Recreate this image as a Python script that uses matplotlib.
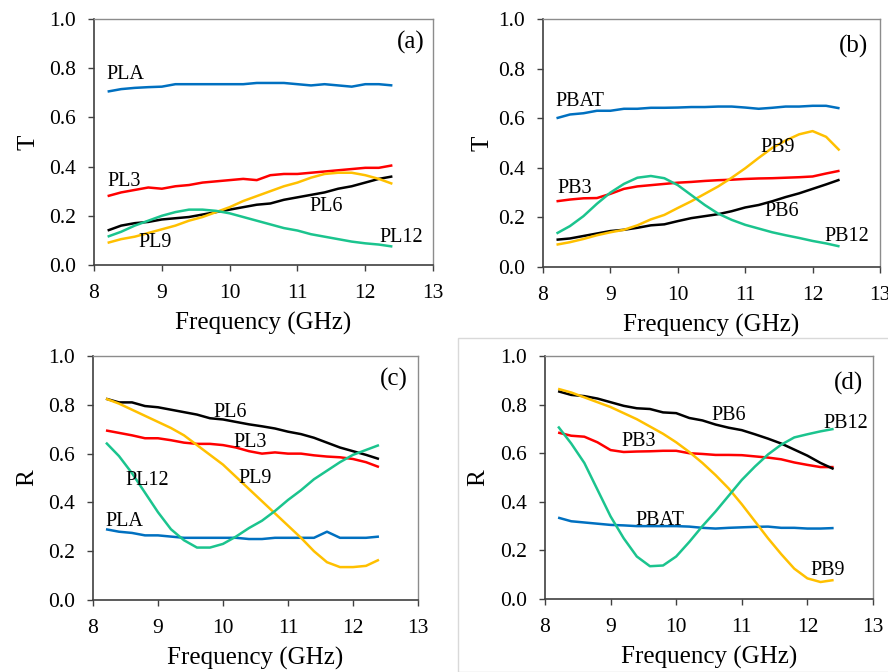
import matplotlib
matplotlib.use("Agg")
import matplotlib.pyplot as plt
from matplotlib.patches import Rectangle

plt.rcParams['font.family'] = ['Liberation Serif', 'DejaVu Serif']

freq = [8.2, 8.4, 8.6, 8.8, 9.0, 9.2, 9.4, 9.6, 9.8, 10.0, 10.2, 10.4, 10.6, 10.8,
        11.0, 11.2, 11.4, 11.6, 11.8, 12.0, 12.2, 12.4]

# Panel (a): T of PL series
a_PLA = [0.705, 0.715, 0.720, 0.723, 0.725, 0.735, 0.735, 0.735, 0.735, 0.735, 0.735, 0.740,
         0.740, 0.740, 0.735, 0.730, 0.735, 0.730, 0.725, 0.735, 0.735, 0.730]
a_PL3 = [0.280, 0.295, 0.305, 0.315, 0.310, 0.320, 0.325, 0.335, 0.340, 0.345, 0.350, 0.345,
         0.365, 0.370, 0.370, 0.375, 0.380, 0.385, 0.390, 0.395, 0.395, 0.405]
a_PL6 = [0.140, 0.160, 0.170, 0.175, 0.185, 0.190, 0.195, 0.205, 0.215, 0.225, 0.235, 0.245,
         0.250, 0.265, 0.275, 0.285, 0.295, 0.310, 0.320, 0.335, 0.350, 0.360]
a_PL9 = [0.090, 0.105, 0.115, 0.130, 0.145, 0.160, 0.180, 0.195, 0.215, 0.235, 0.260, 0.280,
         0.300, 0.320, 0.335, 0.355, 0.370, 0.375, 0.375, 0.365, 0.350, 0.330]
a_PL12 = [0.115, 0.135, 0.160, 0.180, 0.200, 0.215, 0.225, 0.225, 0.220, 0.210, 0.195, 0.180,
          0.165, 0.150, 0.140, 0.125, 0.115, 0.105, 0.095, 0.088, 0.083, 0.075]

# Panel (b): T of PB series
b_PBAT = [0.600, 0.615, 0.620, 0.630, 0.630, 0.638, 0.638, 0.642, 0.642, 0.643, 0.645, 0.645,
          0.647, 0.647, 0.643, 0.638, 0.642, 0.647, 0.647, 0.650, 0.650, 0.640]
b_PB3 = [0.265, 0.272, 0.277, 0.278, 0.295, 0.315, 0.325, 0.330, 0.335, 0.340, 0.343, 0.347,
         0.350, 0.352, 0.355, 0.357, 0.358, 0.360, 0.362, 0.365, 0.377, 0.388]
b_PB6 = [0.110, 0.115, 0.125, 0.135, 0.145, 0.150, 0.158, 0.168, 0.172, 0.185, 0.197, 0.205,
         0.213, 0.225, 0.240, 0.250, 0.265, 0.282, 0.297, 0.315, 0.333, 0.352]
b_PB9 = [0.090, 0.100, 0.113, 0.128, 0.140, 0.150, 0.168, 0.192, 0.210, 0.238, 0.265, 0.295,
         0.325, 0.360, 0.398, 0.440, 0.480, 0.510, 0.535, 0.548, 0.525, 0.470]
b_PB12 = [0.135, 0.165, 0.205, 0.255, 0.300, 0.335, 0.360, 0.367, 0.358, 0.330, 0.290, 0.250,
          0.215, 0.190, 0.170, 0.155, 0.140, 0.128, 0.117, 0.105, 0.095, 0.083]

# Panel (c): R of PL series
c_PLA = [0.290, 0.280, 0.275, 0.265, 0.265, 0.260, 0.255, 0.255, 0.255, 0.255, 0.255, 0.250,
         0.250, 0.255, 0.255, 0.255, 0.255, 0.280, 0.255, 0.255, 0.255, 0.260]
c_PL3 = [0.695, 0.685, 0.675, 0.663, 0.663, 0.655, 0.645, 0.640, 0.640, 0.635, 0.625, 0.610,
         0.600, 0.605, 0.600, 0.600, 0.593, 0.588, 0.585, 0.578, 0.565, 0.545]
c_PL6 = [0.825, 0.810, 0.810, 0.795, 0.790, 0.780, 0.770, 0.760, 0.745, 0.740, 0.730, 0.720,
         0.712, 0.703, 0.690, 0.680, 0.665, 0.645, 0.625, 0.610, 0.595, 0.578]
c_PL9 = [0.825, 0.805, 0.780, 0.755, 0.730, 0.705, 0.675, 0.635, 0.595, 0.555, 0.505, 0.455,
         0.405, 0.355, 0.305, 0.255, 0.200, 0.155, 0.135, 0.135, 0.140, 0.165]
c_PL12 = [0.645, 0.590, 0.520, 0.440, 0.360, 0.290, 0.245, 0.215, 0.215, 0.230, 0.260, 0.295,
          0.325, 0.365, 0.410, 0.450, 0.495, 0.530, 0.565, 0.595, 0.615, 0.635]

# Panel (d): R of PB series
d_PBAT = [0.335, 0.320, 0.315, 0.310, 0.305, 0.303, 0.300, 0.300, 0.300, 0.300, 0.298, 0.293,
          0.290, 0.293, 0.295, 0.297, 0.298, 0.293, 0.293, 0.290, 0.290, 0.292]
d_PB3 = [0.685, 0.672, 0.668, 0.645, 0.613, 0.605, 0.607, 0.608, 0.610, 0.610, 0.600, 0.597,
         0.593, 0.593, 0.592, 0.587, 0.582, 0.575, 0.562, 0.552, 0.543, 0.543]
d_PB6 = [0.855, 0.840, 0.835, 0.825, 0.810, 0.795, 0.785, 0.782, 0.768, 0.765, 0.745, 0.735,
         0.718, 0.705, 0.695, 0.678, 0.660, 0.640, 0.615, 0.590, 0.560, 0.535]
d_PB9 = [0.865, 0.850, 0.830, 0.810, 0.790, 0.765, 0.740, 0.710, 0.680, 0.645, 0.605, 0.560,
         0.510, 0.455, 0.390, 0.320, 0.250, 0.185, 0.125, 0.085, 0.070, 0.078]
d_PB12 = [0.710, 0.640, 0.560, 0.450, 0.340, 0.250, 0.175, 0.135, 0.138, 0.175, 0.235, 0.300,
          0.360, 0.425, 0.490, 0.545, 0.595, 0.635, 0.665, 0.678, 0.690, 0.700]

C_BLUE, C_RED, C_BLACK, C_ORANGE, C_GREEN = '#0070C0', '#FF0000', '#000000', '#FFC000', '#1BC48E'

xticks = [8, 9, 10, 11, 12, 13]
yticks = [0.0, 0.2, 0.4, 0.6, 0.8, 1.0]

panels = [
    dict(rect=[0.1059, 0.6057, 0.3818, 0.3660], ylabel='T', tag='(a)', tagpos=(12.46, 0.905), ylpad=7,
         series=[(a_PLA, C_BLUE), (a_PL3, C_RED), (a_PL6, C_BLACK), (a_PL9, C_ORANGE), (a_PL12, C_GREEN)],
         labels=[('PLA', 8.18, 0.775), ('PL3', 8.2, 0.34), ('PL6', 11.18, 0.237),
                 ('PL9', 8.65, 0.091), ('PL12', 12.21, 0.112)]),
    dict(rect=[0.6115, 0.6027, 0.3795, 0.3690], ylabel='T', tag='(b)', tagpos=(12.39, 0.889), ylpad=3,
         series=[(b_PBAT, C_BLUE), (b_PB3, C_RED), (b_PB6, C_BLACK), (b_PB9, C_ORANGE), (b_PB12, C_GREEN)],
         labels=[('PBAT', 8.18, 0.667), ('PB3', 8.21, 0.318), ('PB6', 11.28, 0.224),
                 ('PB9', 11.23, 0.483), ('PB12', 12.17, 0.121)]),
    dict(rect=[0.1047, 0.1071, 0.3660, 0.3631], ylabel='R', tag='(c)', tagpos=(12.42, 0.904), ylpad=7,
         series=[(c_PLA, C_BLUE), (c_PL3, C_RED), (c_PL6, C_BLACK), (c_PL9, C_ORANGE), (c_PL12, C_GREEN)],
         labels=[('PLA', 8.19, 0.32), ('PL3', 10.16, 0.645), ('PL6', 9.86, 0.77),
                 ('PL9', 10.24, 0.50), ('PL12', 8.5, 0.49)]),
    dict(rect=[0.6137, 0.1086, 0.3694, 0.3616], ylabel='R', tag='(d)', tagpos=(12.4, 0.888), ylpad=8,
         series=[(d_PBAT, C_BLUE), (d_PB3, C_RED), (d_PB6, C_BLACK), (d_PB9, C_ORANGE), (d_PB12, C_GREEN)],
         labels=[('PBAT', 9.38, 0.322), ('PB3', 9.16, 0.647), ('PB6', 10.53, 0.757),
                 ('PB9', 12.05, 0.116), ('PB12', 12.25, 0.723)]),
]

fig = plt.figure(figsize=(8.88, 6.72), dpi=100)

# faint frame around panel (d)
fig.patches.append(Rectangle((458 / 888, 0.0), 1.0, 1 - 338 / 672, transform=fig.transFigure,
                             fill=False, edgecolor='#D9D9D9', linewidth=1.0))

for p in panels:
    ax = fig.add_axes(p['rect'])
    for vals, col in p['series']:
        ax.plot(freq, vals, color=col, linewidth=1.8, solid_capstyle='butt')
    for txt, x, y in p['labels']:
        ax.text(x, y, txt, fontsize=14.5, ha='left', va='center', color='black')
    ax.text(p['tagpos'][0], p['tagpos'][1], p['tag'], fontsize=18, ha='left', va='center')
    ax.set_xlim(8, 13)
    ax.set_ylim(0, 1)
    ax.set_xticks(xticks)
    ax.set_yticks(yticks)
    ax.set_xticklabels([str(t) for t in xticks])
    ax.set_yticklabels(['%.1f' % t for t in yticks])
    ax.tick_params(axis='both', labelsize=15.5, direction='out', length=4, width=1, color='#404040')
    ax.tick_params(axis='y', pad=9)
    ax.tick_params(axis='x', pad=10)
    ax.set_xlabel('Frequency (GHz)', fontsize=18, labelpad=6)
    ax.set_ylabel(p['ylabel'], fontsize=18, labelpad=p['ylpad'])
    for s in ['left', 'bottom']:
        ax.spines[s].set_color('#404040')
        ax.spines[s].set_linewidth(1.2)
    for s in ['top', 'right']:
        ax.spines[s].set_color('#8C8C8C')
        ax.spines[s].set_linewidth(1.0)

fig.savefig('out.png', dpi=100)
